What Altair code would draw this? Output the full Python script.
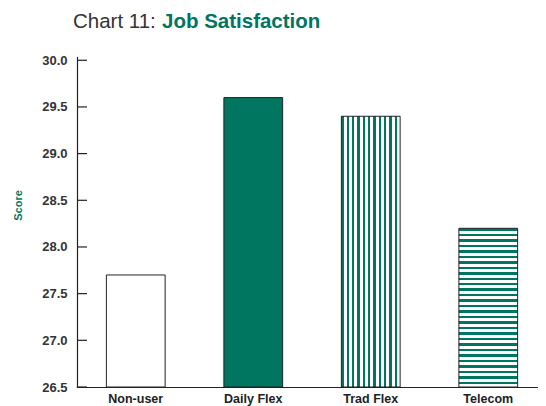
import altair as alt
import pandas as pd

categories = ["Non-user", "Daily Flex", "Trad Flex", "Telecom"]
scores = [27.7, 29.6, 29.4, 28.2]
tick_values = [26.5, 27.0, 27.5, 28.0, 28.5, 29.0, 29.5, 30.0]
title_left = "Chart 11:"
title_right = "Job Satisfaction"
y_title = "Score"
baseline_value = 26.5

GREEN = "#00755f"
FONT = "Liberation Sans"

df = pd.DataFrame({"cat": categories, "score": scores})
ticks_df = pd.DataFrame({"v": tick_values})


def stripes(n, frac, vertical):
    stops = []
    for i in range(n):
        a = i / n
        b = (i + frac) / n
        stops += [
            alt.GradientStop(color=GREEN, offset=a),
            alt.GradientStop(color=GREEN, offset=b),
            alt.GradientStop(color="white", offset=b),
            alt.GradientStop(color="white", offset=(i + 1) / n),
        ]
    if vertical:
        return alt.Gradient(gradient="linear", stops=stops, x1=0, x2=1, y1=0, y2=0)
    return alt.Gradient(gradient="linear", stops=stops, x1=0, x2=0, y1=0, y2=1)


xscale = alt.Scale(domain=categories, range=[0, 470], paddingInner=0.5, paddingOuter=0.25)
yscale = alt.Scale(domain=[26.5, 30.035], zero=False, nice=False)

xenc = alt.X("cat:N", scale=xscale, sort=categories,
             axis=alt.Axis(title=None, ticks=False, labelAngle=0, labelFont=FONT,
                           labelFontWeight="bold", labelFontSize=12.5, labelColor="#222",
                           labelPadding=5, domainColor="#222", domainWidth=1.2))
yenc = alt.Y("score:Q", scale=yscale,
             axis=alt.Axis(values=tick_values, format=".1f", ticks=False, grid=False,
                           labelFont=FONT, labelFontWeight="bold", labelFontSize=13,
                           labelColor="#333", labelPadding=10, domainColor="#222",
                           domainWidth=1.2, title=y_title, titleColor=GREEN,
                           titleFont=FONT, titleFontSize=11, titleFontWeight="bold",
                           titleX=-54, titleY=148))

base = alt.Chart(df)


def bar(cat, fill):
    return base.transform_filter(alt.datum.cat == cat).mark_bar(
        fill=fill, stroke="#222", strokeWidth=1
    ).encode(x=xenc, y=yenc, y2=alt.datum(baseline_value))


b1 = bar("Non-user", "white")
b2 = bar("Daily Flex", GREEN)
b3 = bar("Trad Flex", stripes(11, 0.42, True))
b4 = bar("Telecom", stripes(29, 0.45, False))

ticks = alt.Chart(ticks_df).mark_rule(color="#222", strokeWidth=1.2).encode(
    y=alt.Y("v:Q", scale=yscale), x=alt.value(0), x2=alt.value(10)
)

t1 = alt.Chart(pd.DataFrame({"t": [title_left]})).mark_text(
    font=FONT, fontSize=20.5, color="#333", align="left", baseline="alphabetic"
).encode(text="t:N", x=alt.value(-4), y=alt.value(-29))
t2 = alt.Chart(pd.DataFrame({"t": [title_right]})).mark_text(
    font=FONT, fontSize=20.5, fontWeight="bold", color=GREEN, align="left", baseline="alphabetic"
).encode(text="t:N", x=alt.value(85), y=alt.value(-29))

chart = alt.layer(b1, b2, b3, b4, ticks, t1, t2).properties(
    width=461, height=330,
    autosize=alt.AutoSizeParams(type="none"),
    padding={"left": 69, "top": 49, "right": 0, "bottom": 19},
).configure_view(stroke=None).configure_axis(domainCap="square")

chart.save("out.html", embed_options={"renderer": "svg", "actions": False})
